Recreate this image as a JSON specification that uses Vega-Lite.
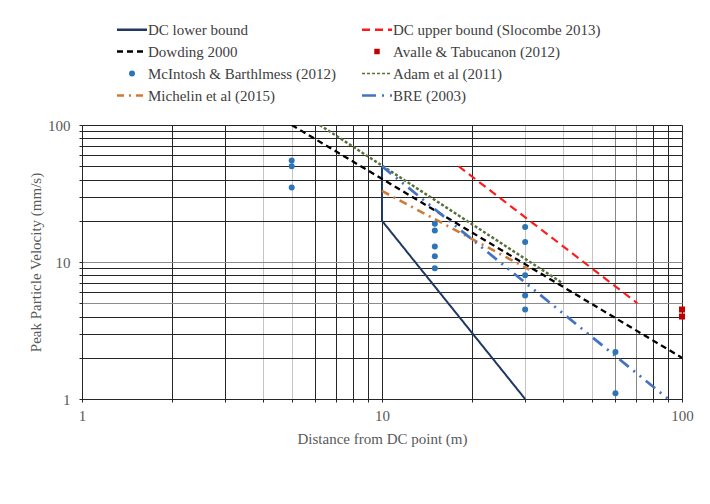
{
  "$schema": "https://vega.github.io/schema/vega-lite/v6.json",
  "width": 600,
  "height": 274,
  "autosize": "none",
  "padding": {"left": 82, "top": 125, "right": 28, "bottom": 105},
  "background": "white",
  "config": {
    "font": "Liberation Serif",
    "view": {"stroke": null},
    "legend": {"labelFont": "Liberation Serif", "labelFontSize": 15},
    "axis": {
      "labelFont": "Liberation Serif",
      "titleFont": "Liberation Serif",
      "labelFontSize": 15,
      "titleFontSize": 15,
      "titleFontWeight": "normal",
      "labelColor": "#595959",
      "titleColor": "#595959",
      "tickColor": "#262626",
      "domainColor": "#262626",
      "tickSize": 3,
      "gridOpacity": 1,
      "labelOverlap": false,
      "labelFlush": false
    }
  },
  "datasets": {
    "curves": [
      {"series": "DC lower bound", "d": 10, "v": 50, "i": 1},
      {"series": "DC lower bound", "d": 10, "v": 20, "i": 2},
      {"series": "DC lower bound", "d": 30, "v": 1, "i": 3},
      {"series": "DC upper bound (Slocombe 2013)", "d": 18, "v": 50, "i": 1},
      {"series": "DC upper bound (Slocombe 2013)", "d": 71, "v": 5, "i": 2},
      {"series": "Dowding 2000", "d": 5, "v": 100, "i": 1},
      {"series": "Dowding 2000", "d": 100, "v": 2, "i": 2},
      {"series": "Adam et al (2011)", "d": 6.2, "v": 100, "i": 1},
      {"series": "Adam et al (2011)", "d": 40, "v": 7, "i": 2},
      {"series": "Michelin et al (2015)", "d": 10, "v": 33, "i": 1},
      {"series": "Michelin et al (2015)", "d": 31, "v": 8.8, "i": 2},
      {"series": "BRE (2003)", "d": 10, "v": 50, "i": 1},
      {"series": "BRE (2003)", "d": 90, "v": 1, "i": 2}
    ],
    "points": [
      {"series": "McIntosh & Barthlmess (2012)", "d": 5, "v": 55},
      {"series": "McIntosh & Barthlmess (2012)", "d": 5, "v": 50},
      {"series": "McIntosh & Barthlmess (2012)", "d": 5, "v": 35},
      {"series": "McIntosh & Barthlmess (2012)", "d": 15, "v": 19},
      {"series": "McIntosh & Barthlmess (2012)", "d": 15, "v": 17},
      {"series": "McIntosh & Barthlmess (2012)", "d": 15, "v": 13},
      {"series": "McIntosh & Barthlmess (2012)", "d": 15, "v": 11},
      {"series": "McIntosh & Barthlmess (2012)", "d": 15, "v": 9},
      {"series": "McIntosh & Barthlmess (2012)", "d": 30, "v": 18},
      {"series": "McIntosh & Barthlmess (2012)", "d": 30, "v": 14},
      {"series": "McIntosh & Barthlmess (2012)", "d": 30, "v": 8},
      {"series": "McIntosh & Barthlmess (2012)", "d": 30, "v": 5.7},
      {"series": "McIntosh & Barthlmess (2012)", "d": 30, "v": 4.5},
      {"series": "McIntosh & Barthlmess (2012)", "d": 60, "v": 2.2},
      {"series": "McIntosh & Barthlmess (2012)", "d": 60, "v": 1.1},
      {"series": "Avalle & Tabucanon (2012)", "d": 100, "v": 4.5},
      {"series": "Avalle & Tabucanon (2012)", "d": 100, "v": 4.0}
    ]
  },
  "encoding": {
    "x": {
      "field": "d", "type": "quantitative",
      "scale": {"type": "log", "domain": [1, 100], "nice": false},
      "axis": {
        "title": "Distance from DC point (m)",
        "values": [1,2,3,4,5,6,7,8,9,10,20,30,40,50,60,70,80,90,100],
        "format": "d",
        "labelExpr": "indexof([1,10,100], datum.value) >= 0 ? datum.label : ''",
        "labelPadding": 6,
        "titlePadding": 8,
        "grid": true,
        "gridColor": {"condition": {"test": "indexof([4,5,30,40,50], datum.value) >= 0", "value": "#c4c4c4"}, "value": "#262626"},
        "gridOpacity": {"condition": {"test": "indexof([60,70], datum.value) >= 0", "value": 0.55}, "value": 1}
      }
    },
    "y": {
      "field": "v", "type": "quantitative",
      "scale": {"type": "log", "domain": [1, 100], "nice": false},
      "axis": {
        "title": "Peak Particle Velocity (mm/s)",
        "values": [1,2,3,4,5,6,7,8,9,10,20,30,40,50,60,70,80,90,100],
        "format": "d",
        "labelExpr": "indexof([1,10,100], datum.value) >= 0 ? datum.label : ''",
        "labelPadding": 9,
        "titlePadding": 4,
        "grid": true,
        "gridColor": {"condition": {"test": "indexof([10,5], datum.value) >= 0", "value": "#8c8c8c"}, "value": "#262626"}
      }
    },
    "color": {
      "field": "series", "type": "nominal",
      "scale": {
        "domain": ["DC lower bound", "Dowding 2000", "McIntosh & Barthlmess (2012)", "Michelin et al (2015)", "DC upper bound (Slocombe 2013)", "Avalle & Tabucanon (2012)", "Adam et al (2011)", "BRE (2003)"],
        "range": ["#1F3864", "#000000", "#2E75B6", "#D07A35", "#FF1A1A", "#C00000", "#56703A", "#4472C4"]
      },
      "legend": {
        "title": null,
        "orient": "none",
        "legendX": 34,
        "legendY": -103,
        "columns": 2,
        "columnPadding": 21,
        "rowPadding": 6,
        "padding": 0,
        "symbolSize": 900,
        "labelFont": "Liberation Serif",
        "labelFontSize": 15,
        "labelColor": "#404040",
        "labelOffset": 0,
        "labelLimit": 400,
        "encode": {
          "labels": {
            "update": {
              "x": {"value": 32},
              "font": {"value": "Liberation Serif"},
              "fontSize": {"value": 15}
            }
          },
          "symbols": {
            "update": {
              "x": {"value": 16},
              "shape": {"signal": "datum.value === 'McIntosh & Barthlmess (2012)' ? 'circle' : datum.value === 'Avalle & Tabucanon (2012)' ? 'square' : 'stroke'"},
              "size": {"signal": "datum.value === 'McIntosh & Barthlmess (2012)' ? 36 : datum.value === 'Avalle & Tabucanon (2012)' ? 30 : 900"},
              "fill": {"signal": "(datum.value === 'McIntosh & Barthlmess (2012)' || datum.value === 'Avalle & Tabucanon (2012)') ? scale('color', datum.value) : 'transparent'"},
              "stroke": {"signal": "scale('color', datum.value)"},
              "strokeWidth": {"signal": "(datum.value === 'McIntosh & Barthlmess (2012)' || datum.value === 'Avalle & Tabucanon (2012)') ? 0 : datum.value === 'Adam et al (2011)' ? 1.5 : 2.5"},
              "strokeDash": {"signal": "datum.value === 'DC upper bound (Slocombe 2013)' ? [8,5] : datum.value === 'Dowding 2000' ? [6,4] : datum.value === 'Adam et al (2011)' ? [3,2] : datum.value === 'Michelin et al (2015)' ? [7,5,2,5] : datum.value === 'BRE (2003)' ? [14,6,2,6] : [1,0]"},
              "opacity": {"value": 1}
            }
          }
        }
      }
    }
  },
  "layer": [
    {
      "data": {"name": "curves"},
      "mark": {"type": "line", "clip": true},
      "encoding": {
        "order": {"field": "i", "type": "quantitative"},
        "strokeDash": {
          "field": "series", "type": "nominal",
          "scale": {
            "domain": ["DC lower bound", "DC upper bound (Slocombe 2013)", "Dowding 2000", "Adam et al (2011)", "Michelin et al (2015)", "BRE (2003)"],
            "range": [[1, 0], [8, 5], [6, 4], [3, 2], [8, 5, 2, 5], [12, 6, 2, 6, 2, 6]]
          },
          "legend": null
        },
        "strokeWidth": {
          "field": "series", "type": "ordinal",
          "scale": {
            "domain": ["DC lower bound", "DC upper bound (Slocombe 2013)", "Dowding 2000", "Adam et al (2011)", "Michelin et al (2015)", "BRE (2003)"],
            "range": [2, 2.75, 2.25, 1.5, 2.5, 2.75]
          },
          "legend": null
        }
      }
    },
    {
      "data": {"name": "points"},
      "mark": {"type": "point", "filled": true, "opacity": 1},
      "encoding": {
        "shape": {
          "field": "series", "type": "nominal",
          "scale": {"domain": ["McIntosh & Barthlmess (2012)", "Avalle & Tabucanon (2012)"], "range": ["circle", "square"]},
          "legend": null
        },
        "size": {"value": 36}
      }
    }
  ]
}
